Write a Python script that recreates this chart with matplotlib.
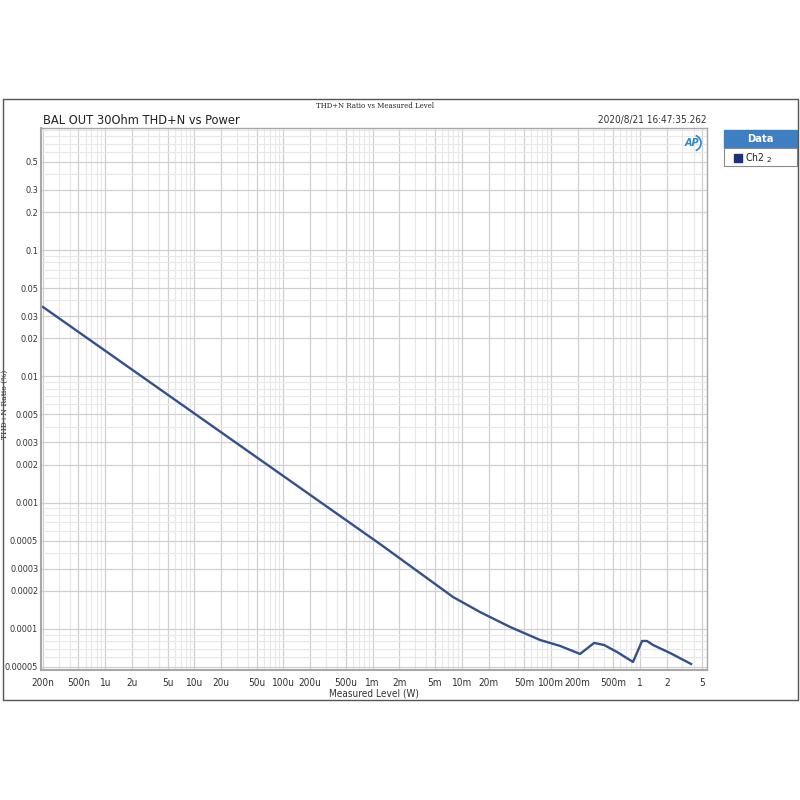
import matplotlib
matplotlib.use("Agg")
import matplotlib.pyplot as plt
from matplotlib.ticker import FixedLocator, NullFormatter
from matplotlib.patches import Rectangle, Arc
from matplotlib import font_manager
import numpy as np

# ---- data ----
power_w = [2e-7, 1.21e-3, 8.0e-3, 0.0161, 0.0349, 0.0757, 0.127, 0.213,
           0.306, 0.395, 0.553, 0.837, 1.057, 1.20, 1.40, 2.18, 3.75]
thdn_pct = [0.0355, 0.000471, 0.000179, 0.000136, 0.0001037, 0.0000818,
            0.0000734, 0.0000634, 0.0000775, 0.0000747, 0.0000657,
            0.0000548, 0.0000803, 0.0000803, 0.0000747, 0.0000645, 0.0000528]

x_ticks = [2e-7, 5e-7, 1e-6, 2e-6, 5e-6, 1e-5, 2e-5, 5e-5, 1e-4, 2e-4, 5e-4,
           1e-3, 2e-3, 5e-3, 1e-2, 2e-2, 5e-2, 0.1, 0.2, 0.5, 1, 2, 5]
x_labels = ["200n", "500n", "1u", "2u", "5u", "10u", "20u", "50u", "100u",
            "200u", "500u", "1m", "2m", "5m", "10m", "20m", "50m", "100m",
            "200m", "500m", "1", "2", "5"]
y_ticks = [0.5, 0.3, 0.2, 0.1, 0.05, 0.03, 0.02, 0.01, 0.005, 0.003, 0.002,
           0.001, 0.0005, 0.0003, 0.0002, 0.0001, 0.00005]
y_labels = ["0.5", "0.3", "0.2", "0.1", "0.05", "0.03", "0.02", "0.01",
            "0.005", "0.003", "0.002", "0.001", "0.0005", "0.0003", "0.0002",
            "0.0001", "0.00005"]

# pick a condensed face if one is installed
cond = [f for f in font_manager.fontManager.ttflist
        if "condensed" in str(f.stretch).lower() or "Narrow" in f.name
        or "Condensed" in f.name]
if cond:
    fam = [cond[0].name, "DejaVu Sans"]
    stretch = cond[0].stretch
    scale = 1.0
else:
    fam = ["Liberation Sans", "DejaVu Sans"]
    stretch = "normal"
    scale = 0.85
TXT = dict(fontfamily=fam, fontstretch=stretch)

fig = plt.figure(figsize=(8, 8), dpi=100)
W, H = 800, 800
def fx(px): return px / W
def fy(py): return 1 - py / H

ax = fig.add_axes([fx(41), fy(670), fx(707) - fx(41), fy(128) - fy(670)])
ax.set_xscale("log")
ax.set_yscale("log")
ax.set_xlim(1.90e-7, 5.66)
ax.set_ylim(0.0000473, 0.929)

minor_x = [m * 10.0 ** e for e in range(-7, 1) for m in range(1, 10)]
minor_y = [m * 10.0 ** e for e in range(-5, 0) for m in range(1, 10)]
ax.xaxis.set_minor_locator(FixedLocator(minor_x))
ax.yaxis.set_minor_locator(FixedLocator(minor_y))
ax.xaxis.set_minor_formatter(NullFormatter())
ax.yaxis.set_minor_formatter(NullFormatter())
ax.set_xticks(x_ticks)
ax.set_xticklabels(x_labels, fontsize=7.2 * scale, color="#333333", **TXT)
ax.set_yticks(y_ticks)
ax.set_yticklabels(y_labels, fontsize=6.6 * scale, color="#333333", **TXT)
ax.tick_params(axis="x", which="both", length=0, pad=6)
ax.tick_params(axis="y", which="both", length=0, pad=2)
ax.grid(which="minor", color="#e8e8e8", linewidth=0.8)
ax.grid(which="major", color="#d0d0d0", linewidth=0.9)
ax.set_axisbelow(True)
for s in ax.spines.values():
    s.set_color("#a8a8a8")
    s.set_linewidth(1.0)
ax.spines["left"].set_linewidth(1.5)
ax.spines["bottom"].set_linewidth(1.5)

ax.plot(power_w, thdn_pct, color="#34508c", linewidth=1.7)

ax.set_xlabel("Measured Level (W)", fontsize=7.2 * scale, color="#333333",
              **TXT)
ax.xaxis.set_label_coords(0.5, -0.035)
ax.set_ylabel("THD+N Ratio (%)", fontfamily="DejaVu Serif", fontsize=5.5,
              color="#222222")
ax.yaxis.set_label_coords(-0.048, 0.49)

fig.text(fx(43), fy(124), "BAL OUT 30Ohm THD+N vs Power",
         fontsize=9.2 * scale, color="#222222", va="baseline", **TXT)
fig.text(fx(375), fy(108), "THD+N Ratio vs Measured Level",
         fontfamily="DejaVu Serif", fontsize=5, color="#222222", ha="center",
         va="baseline")
fig.text(fx(707), fy(123), "2020/8/21 16:47:35.262",
         fontsize=7.2 * scale, color="#333333", ha="right", va="baseline",
         **TXT)

# AP logo
fig.text(fx(692), fy(143), "AP", fontfamily="DejaVu Sans", fontsize=7,
         fontweight="bold", fontstyle="italic", color="#2f86c8",
         ha="center", va="center")
fig.add_artist(Arc((fx(693), fy(143)), fx(16), fx(16), theta1=-70,
                   theta2=70, color="#2f86c8", linewidth=1.2,
                   transform=fig.transFigure))

# legend box
fig.add_artist(Rectangle((fx(724), fy(148)), fx(73), fy(130) - fy(148),
                         facecolor="#3d7fc0", edgecolor="#3d7fc0",
                         transform=fig.transFigure))
fig.add_artist(Rectangle((fx(724), fy(166)), fx(73), fy(148) - fy(166),
                         facecolor="white", edgecolor="#8a8a8a",
                         linewidth=0.8, transform=fig.transFigure))
fig.text(fx(760), fy(139), "Data", fontsize=8 * scale, fontweight="bold",
         color="white", ha="center", va="center", **TXT)
fig.add_artist(Rectangle((fx(734), fy(162)), fx(8), fy(154) - fy(162),
                         facecolor="#1f2f78", edgecolor="#1f2f78",
                         transform=fig.transFigure))
fig.text(fx(745), fy(158), "Ch2 $_2$", fontsize=7.5 * scale,
         color="#222222", ha="left", va="center", **TXT)

# outer frame
fig.add_artist(Rectangle((fx(3), fy(700)), fx(795), fy(99) - fy(700),
                         facecolor="none", edgecolor="#555555",
                         linewidth=1.0, transform=fig.transFigure))

fig.savefig("out.png", dpi=100)
